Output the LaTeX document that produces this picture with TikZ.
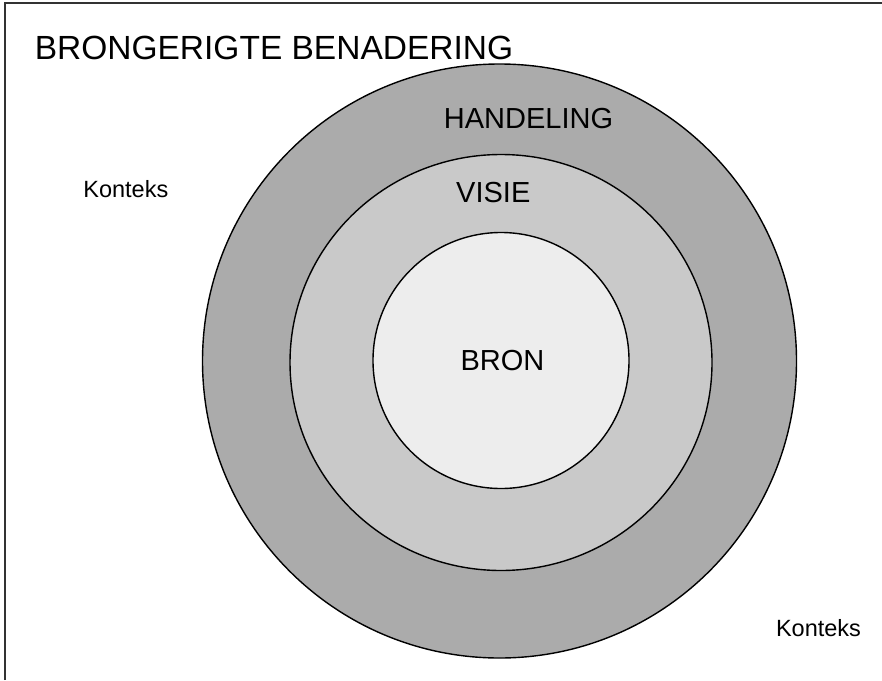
\documentclass[tikz,border=0pt]{standalone}
\usepackage{fontspec}
\setmainfont{Liberation Sans}
\begin{document}
\begin{tikzpicture}[x=1pt,y=-1pt,
  ring/.style={draw=black,line width=1.4pt},
  lbl/.style={inner sep=0pt,anchor=base,font=\fontsize{29}{33}\selectfont},
  ctx/.style={inner sep=0pt,anchor=base,font=\fontsize{23.5}{27}\selectfont}]
\useasboundingbox (0,0) rectangle (882,680);
\fill[white] (0,0) rectangle (882,680);
\draw[line width=2pt,color=black!80] (5,680) -- (5,3) -- (882,3);
% circles
\filldraw[ring,fill=black!33] (499.5,361) circle (297);
\filldraw[ring,fill=black!21] (501,362.5) ellipse (211 and 208);
\filldraw[ring,fill=black!7] (501,360.5) circle (128);
% texts
\node[inner sep=0pt,anchor=base west,font=\fontsize{33.5}{38}\selectfont] (title) at (34.6,59.5) {BRONGERIGTE BENADERING};
\node[lbl] (handeling) at (528.5,128.3) {HANDELING};
\node[lbl] (visie) at (493.3,202.3) {VISIE};
\node[lbl] (bron) at (502.5,370.7) {BRON};
\node[ctx] (ctxl) at (125.8,197.3) {Konteks};
\node[ctx] (ctxr) at (818.5,636.7) {Konteks};
\end{tikzpicture}
\end{document}
